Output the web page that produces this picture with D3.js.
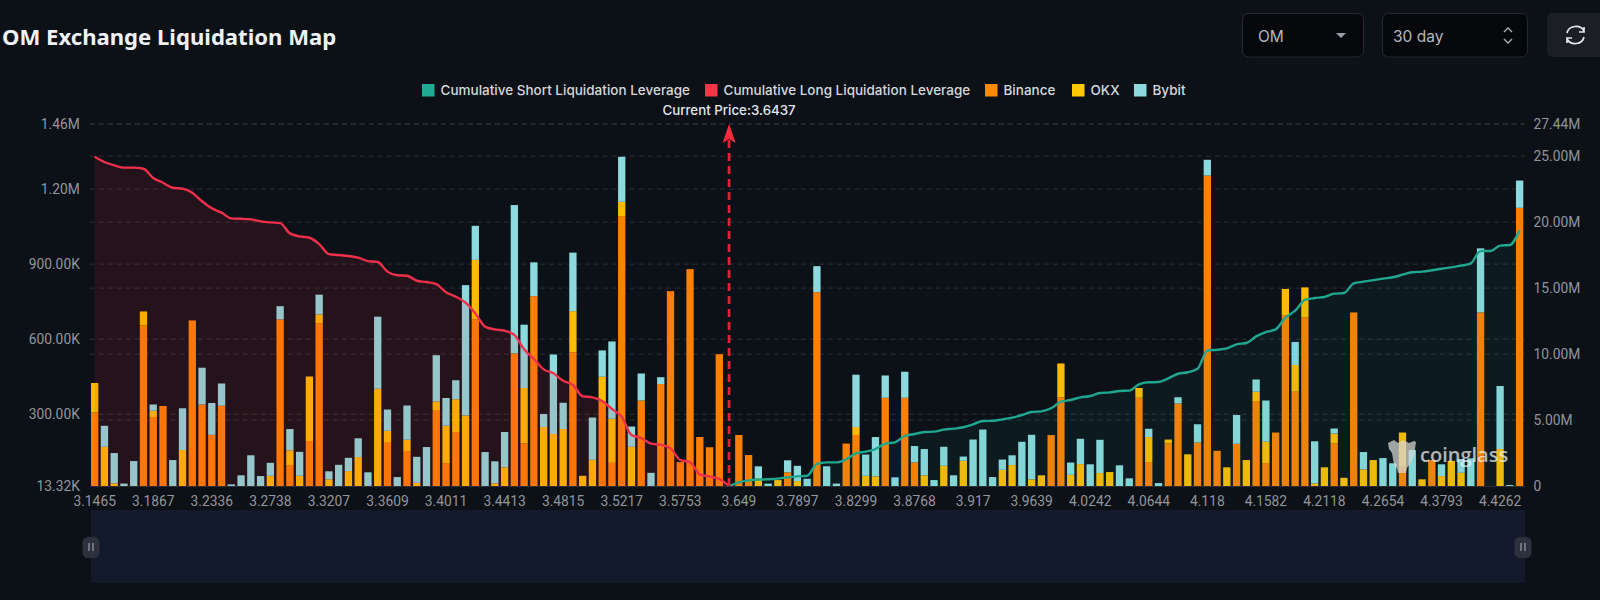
<!DOCTYPE html>
<html>
<head>
<meta charset="utf-8">
<script src="https://cdn.jsdelivr.net/npm/d3@7"></script>
<style>
  html, body { margin:0; padding:0; background:#0c1017; overflow:hidden; }
  text { font-family:Inter, sans-serif; }
  .axis text { font-family:Roboto, sans-serif; font-size:13.8px; fill:#93969b; }
  .axis path, .axis line { stroke:#2c3036; }
</style>
</head>
<body>
<div id="chart"></div>
<script>
// values, one entry per price level, thousands of USD
var binance = [308,0,0,0,0,655,289,333,0,0,675,339,218,334,0,0,0,0,0,679,97,0,193,664,0,0,0,0,0,0,186,0,153,0,0,314,105,229,0,680,0,0,0,543,183,772,0,0,0,548,0,0,350,106,1092,0,355,0,421,792,109,880,209,168,540,0,217,137,0,0,0,68,0,0,788,0,0,183,217,0,0,366,0,366,108,0,0,0,0,0,0,0,0,0,0,0,0,0,217,367,0,0,0,0,0,0,0,366,109,0,183,343,0,187,1254,154,0,182,0,353,105,227,696,390,688,0,0,183,0,707,0,0,0,0,90,0,0,117,0,0,0,0,707,0,0,0,1125];
var okx =     [117,170,24,0,0,56,25,0,0,157,0,0,0,0,0,0,0,0,54,0,59,54,258,35,40,0,73,129,0,402,48,0,45,26,0,37,149,131,295,237,0,24,88,0,222,0,249,221,241,164,54,118,100,176,57,170,0,0,0,0,0,0,0,0,0,0,0,0,44,0,37,0,33,0,0,0,0,0,32,54,52,0,0,0,0,56,0,94,0,114,0,0,0,78,97,0,40,56,0,136,58,101,0,65,69,0,0,39,100,0,16,0,140,0,0,0,88,0,117,37,85,0,105,107,119,24,88,40,46,0,80,117,0,0,137,0,40,0,53,114,66,0,0,0,161,0,0];
var bybit =   [0,84,121,23,113,0,25,0,117,167,0,147,127,89,20,56,136,53,52,53,85,96,0,79,32,98,53,75,68,288,85,49,137,104,169,185,111,76,521,136,149,88,141,593,253,135,52,318,105,234,0,169,105,309,180,81,108,66,27,0,0,0,0,0,0,0,0,0,48,23,0,48,61,42,104,92,23,0,209,85,157,89,48,104,65,105,37,76,56,17,199,239,49,41,39,190,178,0,0,0,49,101,100,133,0,96,44,0,33,25,0,25,0,73,63,0,0,115,0,49,165,0,0,92,0,168,0,20,0,0,69,0,125,104,0,157,0,0,47,0,55,124,256,0,252,17,109];

// cumulative leverage in millions, long side runs down to the current price
var cumLong = [24.96,24.56,24.31,24.13,24.13,24.05,23.35,22.99,22.61,22.54,22.23,21.58,21.05,20.72,20.29,20.26,20.21,20.06,19.98,19.93,19.15,18.92,18.82,18.34,17.58,17.51,17.43,17.31,17.05,16.98,16.25,15.97,15.94,15.56,15.46,15.31,14.68,14.35,13.90,13.09,12.08,11.87,11.77,11.45,10.36,9.63,8.84,8.54,7.98,7.66,6.80,6.72,6.44,5.84,5.26,3.87,3.64,3.21,3.13,2.85,1.97,1.82,0.88,0.71,0.53,0];
var cumShort = [0,0.28,0.43,0.48,0.51,0.56,0.66,0.73,0.78,1.67,1.79,1.79,2.02,2.48,2.60,2.80,3.21,3.31,3.79,3.94,4.09,4.12,4.27,4.35,4.45,4.67,4.93,4.95,5.05,5.18,5.38,5.61,5.66,5.89,6.39,6.52,6.72,6.82,7.05,7.10,7.20,7.23,7.71,7.86,7.88,8.16,8.51,8.62,8.89,10.26,10.33,10.43,10.74,10.84,11.34,11.67,11.87,12.76,13.29,14.10,14.25,14.33,14.58,14.63,15.36,15.49,15.61,15.72,15.82,16.02,16.20,16.25,16.35,16.47,16.57,16.70,16.88,17.81,17.81,18.22,18.27,19.40];

var priceLabels = ['3.1465','3.1867','3.2336','3.2738','3.3207','3.3609','3.4011','3.4413','3.4815','3.5217','3.5753','3.649','3.7897','3.8299','3.8768','3.917','3.9639','4.0242','4.0644','4.118','4.1582','4.2118','4.2654','4.3793','4.4262'];
var labelEvery = 6;
var currentIndex = 65;

var leftTicks = [13.32,300,600,900,1200,1460];
var leftLabels = ['13.32K','300.00K','600.00K','900.00K','1.20M','1.46M'];
var rightTicks = [0,5,10,15,20,25,27.44];
var rightLabels = ['0','5.00M','10.00M','15.00M','20.00M','25.00M','27.44M'];

var exchanges = ['binance','okx','bybit'];
var barColors = {binance:'#ff8000', okx:'#ffbb00', bybit:'#8cdadd'};

var legendItems = [
  {name:'Cumulative Short Liquidation Leverage', color:'#22ab94', x:422},
  {name:'Cumulative Long Liquidation Leverage', color:'#f23645', x:705},
  {name:'Binance', color:'#ff8a00', x:985},
  {name:'OKX', color:'#ffc800', x:1072},
  {name:'Bybit', color:'#8cdadd', x:1134}
];

var totalWidth = 1600;
var totalHeight = 600;
var margin = {left:89.8, right:75.5, top:124, bottom:114};
var plotRight = totalWidth - margin.right;
var plotBottom = totalHeight - margin.bottom;

var svg = d3.select('#chart').append('svg')
  .attr('width', totalWidth)
  .attr('height', totalHeight)
  .style('display','block');

svg.append('rect').attr('width', totalWidth).attr('height', totalHeight).attr('fill', '#0c1017');

// scales
var x = d3.scaleBand().domain(d3.range(binance.length))
  .range([margin.left, plotRight]).paddingInner(0.25).paddingOuter(0.125);
var yLeft = d3.scaleLinear().domain([13.32,1460]).range([plotBottom, margin.top]).clamp(true);
var yRight = d3.scaleLinear().domain([0,27.44]).range([plotBottom, margin.top]);
var cx = function(i){ return x(i) + x.bandwidth()/2; };

// grid lines for both value axes
var gridY = leftTicks.slice(1).map(yLeft).concat(rightTicks.slice(1).map(yRight));
svg.append('g').selectAll('line').data(gridY).enter().append('line')
  .attr('x1', margin.left).attr('x2', plotRight)
  .attr('y1', function(d){ return d; }).attr('y2', function(d){ return d; })
  .attr('stroke', '#2d3036').attr('stroke-dasharray', '5,4');

// stacked bars
var rows = binance.map(function(d,i){ return {i:i, binance:d, okx:okx[i], bybit:bybit[i]}; });
var stacked = d3.stack().keys(exchanges)(rows);
svg.append('g').selectAll('g').data(stacked).enter().append('g')
  .attr('fill', function(s){ return barColors[s.key]; })
  .selectAll('rect').data(function(s){ return s; }).enter().append('rect')
    .attr('x', function(d){ return x(d.data.i); })
    .attr('width', x.bandwidth())
    .attr('y', function(d){ return yLeft(d[1]); })
    .attr('height', function(d){ return yLeft(d[0]) - yLeft(d[1]); });

// areas sit over the bars and dim them a little
var area = d3.area().curve(d3.curveMonotoneX)
  .x(function(d){ return cx(d.i); })
  .y0(plotBottom)
  .y1(function(d){ return yRight(d.v); });
var line = area.lineY1();

var longPts = cumLong.map(function(v,i){ return {i:i, v:v}; });
var shortPts = cumShort.map(function(v,i){ return {i:i + currentIndex, v:v}; });

svg.append('path').attr('d', area(longPts)).attr('fill', 'rgba(240,45,65,0.115)');
svg.append('path').attr('d', area(shortPts)).attr('fill', 'rgba(30,170,145,0.08)');
svg.append('path').attr('d', line(longPts)).attr('fill', 'none').attr('stroke', '#f0304a').attr('stroke-width', 2.4);
svg.append('path').attr('d', line(shortPts)).attr('fill', 'none').attr('stroke', '#1fa78f').attr('stroke-width', 2.4);

// axes
var gLeft = svg.append('g').attr('class','axis')
  .attr('transform','translate(' + margin.left + ',0)')
  .call(d3.axisLeft(yLeft).tickValues(leftTicks).tickSize(0).tickPadding(10)
    .tickFormat(function(d,i){ return leftLabels[i]; }));
gLeft.select('.domain').remove();

var gRight = svg.append('g').attr('class','axis')
  .attr('transform','translate(' + plotRight + ',0)')
  .call(d3.axisRight(yRight).tickValues(rightTicks).tickSize(0).tickPadding(9)
    .tickFormat(function(d,i){ return rightLabels[i]; }));
gRight.select('.domain').remove();

var gBottom = svg.append('g').attr('class','axis')
  .attr('transform','translate(0,' + plotBottom + ')')
  .call(d3.axisBottom(x)
    .tickValues(priceLabels.map(function(d,i){ return i*labelEvery; }))
    .tickSize(0).tickPadding(10)
    .tickFormat(function(d){ return priceLabels[d/labelEvery]; }));

// current price marker
var priceX = cx(currentIndex);
svg.append('line')
  .attr('x1', priceX).attr('x2', priceX)
  .attr('y1', plotBottom).attr('y2', margin.top + 16)
  .attr('stroke', '#dc2238').attr('stroke-width', 2.8).attr('stroke-dasharray', '8,5');
svg.append('path')
  .attr('d', d3.line()([[priceX, margin.top],[priceX+6.5, margin.top+19],[priceX, margin.top+15],[priceX-6.5, margin.top+19]]) + 'Z')
  .attr('fill', '#fb2b3d');
svg.append('text').attr('x', priceX).attr('y', 110).attr('dy','.35em')
  .attr('text-anchor','middle').attr('font-size', 13.3).attr('font-weight', 500)
  .attr('fill','#e4e6ea').text('Current Price:3.6437');

// legend
var legend = svg.append('g').selectAll('g').data(legendItems).enter().append('g')
  .attr('transform', function(d){ return 'translate(' + d.x + ',84)'; });
legend.append('rect').attr('width',12.5).attr('height',12.5).attr('fill', function(d){ return d.color; });
legend.append('text').attr('x',18.5).attr('y',6).attr('dy','.35em')
  .attr('font-size',13.5).attr('font-weight',500).attr('fill','#d5d8dc')
  .text(function(d){ return d.name; });

// title
svg.append('text').attr('x',2).attr('y',44.5)
  .attr('font-size',22.1).attr('font-weight',700).attr('fill','#eef1f6')
  .style('font-family','"Noto Sans", sans-serif')
  .text('OM Exchange Liquidation Map');

// zoom slider strip
svg.append('rect').attr('x',91).attr('y',510).attr('width',1434).attr('height',73).attr('fill','#121a2b');
[91,1523].forEach(function(hx){
  svg.append('rect').attr('x',hx-8.5).attr('y',537).attr('width',17).attr('height',21).attr('rx',5.5).attr('fill','#2d313d');
  [-2,2].forEach(function(dx){
    svg.append('line').attr('x1',hx+dx).attr('x2',hx+dx).attr('y1',543).attr('y2',551)
      .attr('stroke','#81858f').attr('stroke-width',1.6);
  });
});

// controls, top right
var controls = [{x:1242,w:121,t:'OM',tx:1258},{x:1382,w:145,t:'30 day',tx:1393}];
controls.forEach(function(c){
  svg.append('rect').attr('x',c.x+.5).attr('y',13.5).attr('width',c.w).attr('height',43.5).attr('rx',6)
    .attr('fill','#05070b').attr('stroke','#26292f');
  svg.append('text').attr('x',c.tx).attr('y',36.5).attr('dy','.35em').attr('font-size',15.5)
    .attr('fill','#b4b8be').text(c.t);
});
svg.append('path').attr('d','M1336,33 h10 l-5,5 Z').attr('fill','#9a9ea5');
svg.append('path').attr('d','M1504,32 l4,-4 l4,4 M1504,39 l4,4 l4,-4').attr('fill','none').attr('stroke','#a8acb3').attr('stroke-width',1.4);
svg.append('rect').attr('x',1547).attr('y',13).attr('width',60).attr('height',44).attr('rx',6).attr('fill','#1b1e25');
svg.append('path').attr('d','M1567,33 a9,8 0 0 1 17,-2 M1584,27 v5 h-5 M1584,37 a9,8 0 0 1 -17,2 M1567,43 v-5 h5')
  .attr('fill','none').attr('stroke','#e4e6ea').attr('stroke-width',1.7);

// watermark
var mark = svg.append('g').attr('opacity',0.72).attr('fill','#d8d8d8');
mark.append('path').attr('d','M1388,443 l6,-3 l4,3 l5,-3 l6,3 l5,-2 l2,1 l-2,14 l-4,8 l-3,4 l-1,5 h-8 l-1,-5 l-3,-3 l-2,-12 l-3,-4 Z');
mark.append('text').attr('x',1420).attr('y',462).attr('font-size',20).attr('font-weight',600)
  .style('font-family','"Open Sans", sans-serif').attr('fill','#f2f2f2').text('coinglass');
</script>
</body>
</html>
